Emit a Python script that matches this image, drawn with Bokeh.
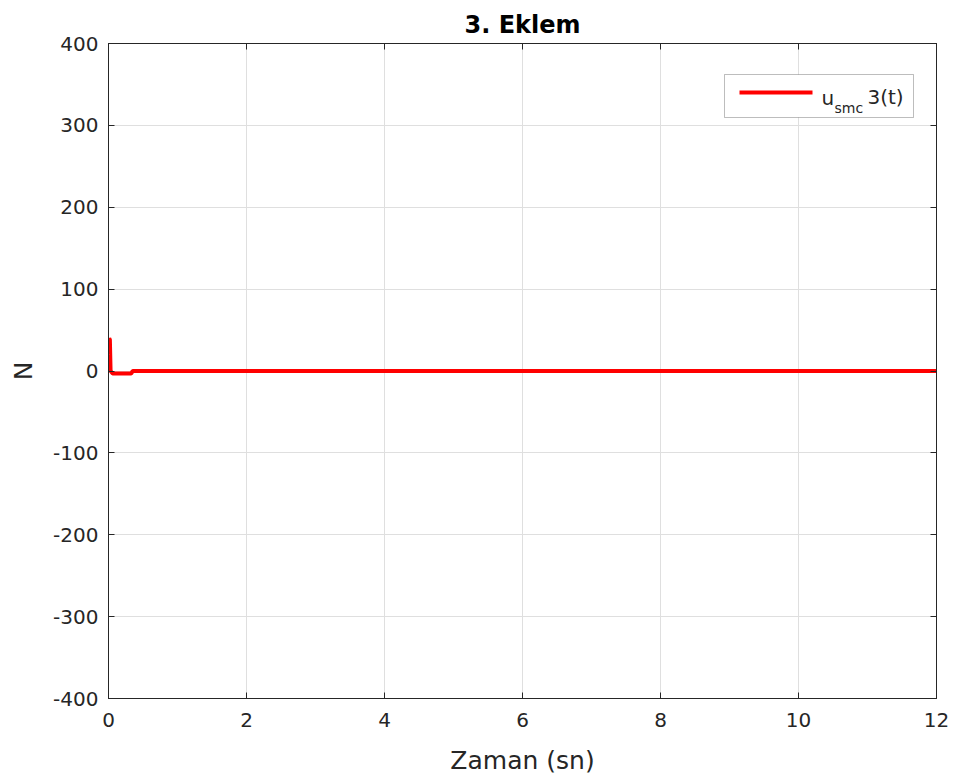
from bokeh.plotting import figure
from bokeh.models import Range1d, FixedTicker, LinearAxis, BoxAnnotation, Label, CustomJSTickFormatter
from bokeh.embed import file_html
from bokeh.resources import INLINE

# data (time in s, control signal in N)
t = [0.0, 0.01, 0.02, 0.03, 0.04, 0.06, 0.1, 0.2, 0.33, 0.35, 1.0, 4.0, 8.0, 12.0]
u = [20.0, 40.0, 38.0, 0.0, -1.0, -3.0, -3.0, -3.0, -3.0, 0.0, 0.0, 0.0, 0.0, 0.0]
x_ticks = [0, 2, 4, 6, 8, 10, 12]
y_ticks = [-400, -300, -200, -100, 0, 100, 200, 300, 400]
y_tick_labels = {v: str(v) for v in y_ticks}
series_label = ("u", "smc", "3(t)")
title_text = "3. Eklem"

FONT = "DejaVu Sans"
TXT = "#262626"

p = figure(width=957, height=782, output_backend="svg", toolbar_location=None,
           x_range=Range1d(0, 12), y_range=Range1d(-400, 400),
           min_border_left=108, min_border_right=21, min_border_top=43, min_border_bottom=84,
           title=title_text)
p.title.align = "center"
p.title.text_font = FONT
p.title.text_font_size = "24px"
p.title.text_font_style = "bold"
p.title.text_color = "black"
p.title.standoff = 10

p.line(t, u, line_color="#ff0000", line_width=4)

for ax in (p.xaxis[0], p.yaxis[0]):
    ax.major_label_text_font = FONT
    ax.major_label_text_font_size = "20px"
    ax.major_label_text_color = TXT
    ax.axis_line_color = TXT
    ax.major_tick_line_color = TXT
    ax.major_tick_in = 6
    ax.major_tick_out = 0
    ax.minor_tick_line_color = None
    ax.axis_label_text_font = FONT
    ax.axis_label_text_font_style = "normal"
    ax.axis_label_text_color = TXT
    ax.axis_label_text_font_size = "25px"

p.xaxis[0].ticker = FixedTicker(ticks=x_ticks)
p.yaxis[0].ticker = FixedTicker(ticks=y_ticks)
p.yaxis[0].major_label_overrides = y_tick_labels
p.xaxis[0].axis_label = "Zaman (sn)"
p.xaxis[0].major_label_standoff = 14
p.xaxis[0].axis_label_standoff = 16
p.yaxis[0].axis_label = "N"
p.yaxis[0].major_label_standoff = 10
p.yaxis[0].axis_label_standoff = 12

blank = CustomJSTickFormatter(code="return ''")
for loc, tk in (("above", x_ticks), ("right", y_ticks)):
    a = LinearAxis(ticker=FixedTicker(ticks=tk), formatter=blank,
                   major_tick_in=6, major_tick_out=0, minor_tick_line_color=None,
                   axis_line_color=TXT, major_tick_line_color=TXT,
                   major_label_text_font_size="0px", major_label_standoff=0)
    p.add_layout(a, loc)

p.xgrid.ticker = FixedTicker(ticks=x_ticks)
p.ygrid.ticker = FixedTicker(ticks=y_ticks)
p.grid.grid_line_color = "#dfdfdf"
p.outline_line_color = TXT

# pixel helpers for legend decoration (frame spans 108..936 x 43..698)
px_x = 12 / 828.0
px_y = 800 / 655.0
def X(px):
    return (px - 108) * px_x
def Y(py):
    return 400 - (py - 43) * px_y

# legend box (manual, for the subscript)
box = BoxAnnotation(left=X(724), right=X(913), top=Y(74), bottom=Y(117),
                    fill_color="white", fill_alpha=1.0, line_color=TXT, line_width=1)
p.add_layout(box)
leg = p.line([X(739), X(812)], [Y(92), Y(92)], line_color="#ff0000", line_width=4)
leg.level = "overlay"
p.add_layout(Label(x=X(821), y=Y(97), text=series_label[0], text_font=FONT, text_font_size="20px",
                   text_color=TXT, text_baseline="alphabetic", level="overlay"))
p.add_layout(Label(x=X(834), y=Y(107), text=series_label[1], text_font=FONT, text_font_size="14px",
                   text_color=TXT, text_baseline="alphabetic", level="overlay"))
p.add_layout(Label(x=X(867), y=Y(96), text=series_label[2], text_font=FONT, text_font_size="20px",
                   text_color=TXT, text_baseline="alphabetic", level="overlay"))

open("out.html", "w").write(file_html(p, INLINE))
